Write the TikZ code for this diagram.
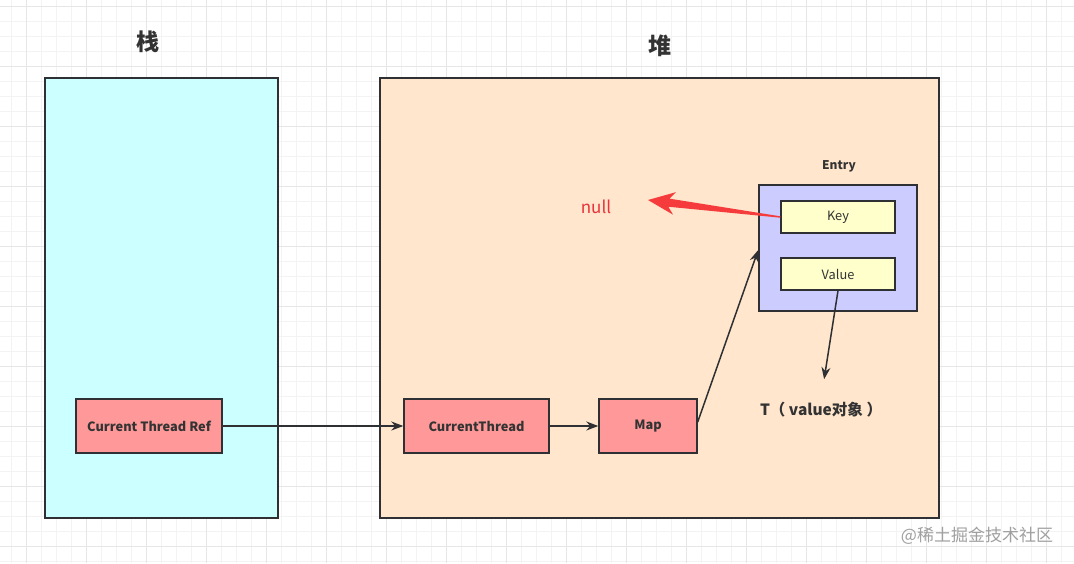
\documentclass[tikz,border=0pt]{standalone}
\usepackage{fontspec}
\setmainfont{Noto Sans CJK SC}
\usetikzlibrary{arrows.meta,calc}
\definecolor{stackfill}{HTML}{CCFFFF}
\definecolor{heapfill}{HTML}{FFE6CC}
\definecolor{entryfill}{HTML}{CCCCFF}
\definecolor{keyfill}{HTML}{FFFFCC}
\definecolor{pinkfill}{HTML}{FF9999}
\definecolor{edge}{HTML}{2E3033}
\definecolor{txt}{HTML}{333333}
\definecolor{nullred}{HTML}{E8333B}
\definecolor{arrowred}{HTML}{F53B3B}
\definecolor{minorgrid}{HTML}{F3F3F3}
\definecolor{majorgrid}{HTML}{E6E6E6}
\definecolor{wmark}{HTML}{A0A0A0}
\tikzset{
  region/.style={draw=edge, line width=1.6pt, anchor=north west, inner sep=0pt},
  pinkbox/.style={draw=edge, line width=1.4pt, fill=pinkfill, minimum height=54pt, inner sep=0pt, font=\bfseries\fontsize{12.8pt}{14pt}\selectfont, text=txt},
  fieldbox/.style={draw=edge, line width=1.4pt, fill=keyfill, minimum width=114pt, minimum height=32pt, inner sep=0pt, font=\fontsize{12.8pt}{14pt}\selectfont, text=txt},
  title/.style={font=\bfseries\fontsize{23pt}{26pt}\selectfont, text=txt},
  link/.style={draw=edge, line width=1.5pt, -{Stealth[length=12pt,width=9pt]}},
}
\begin{document}
\begin{tikzpicture}[x=1pt,y=-1pt]
\useasboundingbox (0,0) rectangle (1074,563);
\fill[white] (0,0) rectangle (1074,563);
% grid
\foreach \i in {0,...,71} {\draw[minorgrid, line width=0.6pt] ({11.7+15*\i},0) -- ({11.7+15*\i},563);}
\foreach \i in {0,...,37} {\draw[minorgrid, line width=0.6pt] (0,{6.7+15*\i}) -- (1074,{6.7+15*\i});}
\foreach \i in {0,...,17} {\draw[majorgrid, line width=0.8pt] ({26.7+60*\i},0) -- ({26.7+60*\i},563);}
\foreach \i in {0,...,9} {\draw[majorgrid, line width=0.8pt] (0,{6.7+60*\i}) -- (1074,{6.7+60*\i});}
% regions
\node[region, fill=stackfill, minimum width=233pt, minimum height=440pt] (stack) at (44,77) {};
\node[region, fill=heapfill, minimum width=559pt, minimum height=440pt] (heap) at (379,77) {};
\node[title] (stacktitle) at (148,42) {栈};
\node[title] (heaptitle) at (660,46) {堆};
% entry
\node[font=\bfseries\fontsize{12pt}{14pt}\selectfont, text=txt] (entrylabel) at (839,166) {Entry};
\node[draw=edge, line width=1.6pt, fill=entryfill, minimum width=158pt, minimum height=126pt, inner sep=0pt] (entry) at (838,248) {};
\node[fieldbox] (key) at (838,217) {Key};
\node[fieldbox] (value) at (838,274) {Value};
% pink boxes
\node[pinkbox, minimum width=146pt] (ref) at (149,426) {Current Thread Ref};
\node[pinkbox, minimum width=145pt] (cthread) at (476.5,426) {CurrentThread};
\node[pinkbox, minimum width=98pt] (map) at (648,426) {Map};
% texts
\node[font=\fontsize{17pt}{20pt}\selectfont, text=nullred] (null) at (596,207) {null};
\node[font=\bfseries\fontsize{15.5pt}{18pt}\selectfont, text=txt] (tobj) at (821,410) {T（ value对象 ）};
\node[font=\fontsize{17pt}{20pt}\selectfont, text=wmark] (wm) at (977,536) {@稀土掘金技术社区};
% connectors
\draw[link] (ref.east) -- (cthread.west);
\draw[link] (cthread.east) -- (map.west);
\draw[link] ([yshift=4pt]map.east) -- ([yshift=-2pt]entry.west);
\draw[link, shorten >=20pt] (value.south) -- (tobj.north);
% red flex arrow from Key to null
\coordinate (nulltip) at (648,200);
\fill[arrowred] (nulltip)
  -- ($(nulltip)!29pt!23:(key.west)$)
  -- ($(nulltip)!21.4pt!11:(key.west)$)
  -- ($(key.west)!0.7pt!-90:(nulltip)$)
  -- ($(key.west)!0.7pt!90:(nulltip)$)
  -- ($(nulltip)!21.4pt!-11:(key.west)$)
  -- ($(nulltip)!29pt!-23:(key.west)$)
  -- cycle;
\end{tikzpicture}
\end{document}
